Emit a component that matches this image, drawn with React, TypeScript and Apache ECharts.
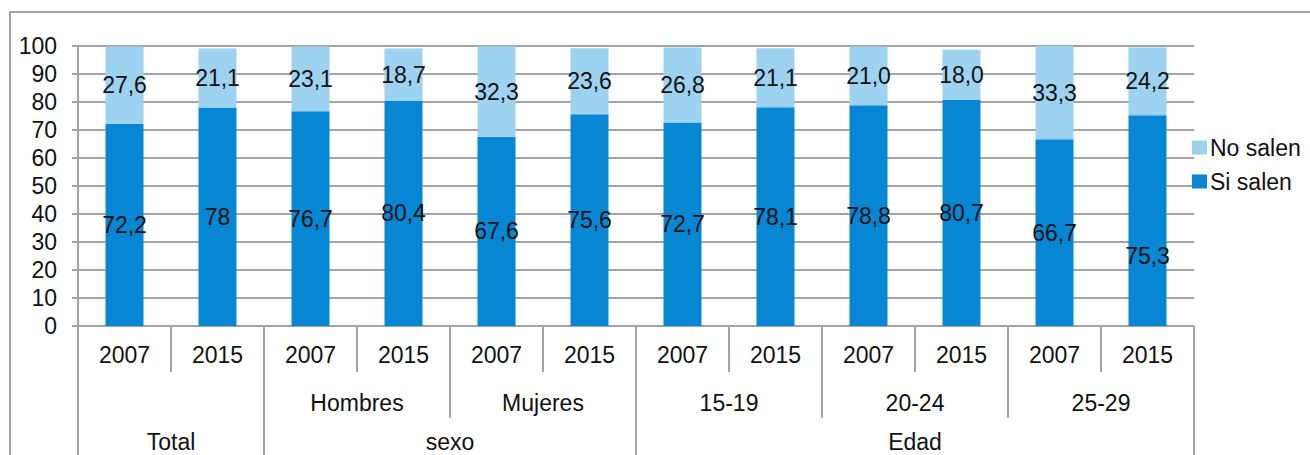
import React, { useEffect, useRef } from "react";
import * as echarts from "echarts";

const years = ["2007", "2015", "2007", "2015", "2007", "2015", "2007", "2015", "2007", "2015", "2007", "2015"];
const level2 = ["", "Hombres", "Mujeres", "15-19", "20-24", "25-29"];
const level3 = ["Total", "sexo", "Edad"];
const level3Centers = [1, 4, 9];
const level3Bounds = [0, 2, 6, 12];
const siSalen = [72.2, 78, 76.7, 80.4, 67.6, 75.6, 72.7, 78.1, 78.8, 80.7, 66.7, 75.3];
const noSalen = [27.6, 21.1, 23.1, 18.7, 32.3, 23.6, 26.8, 21.1, 21.0, 18.0, 33.3, 24.2];
const yTicks = [0, 10, 20, 30, 40, 50, 60, 70, 80, 90, 100];

const FONT = "'Liberation Sans', Arial, sans-serif";
const FS = 23;
const GRAY = "#a3a3a3";
const DARK = "#0787D3";
const LIGHT = "#9DD2F0";
const TXT = "#111";

export default function App() {
  const ref = useRef<HTMLDivElement>(null);
  useEffect(() => {
    if (!ref.current) return;
    const chart = echarts.init(ref.current, null, { renderer: "svg" });
    const fmt = (v: number, fixed: boolean) => (fixed ? v.toFixed(1) : String(v)).replace(".", ",");
    chart.setOption({
      animation: false,
      textStyle: { fontFamily: FONT },
      graphic: [
        {
          type: "rect",
          shape: { x: 10, y: 12, width: 1400, height: 600 },
          style: { fill: "none", stroke: GRAY, lineWidth: 2 },
          silent: true,
          z: -10,
        },
      ],
      legend: {
        orient: "vertical",
        left: 1192,
        top: 136,
        itemWidth: 15,
        itemHeight: 14,
        itemGap: 11,
        icon: "rect",
        padding: 0,
        textStyle: { fontSize: FS, color: TXT, fontFamily: FONT, padding: [0, 0, 0, -2] },
        data: ["No salen", "Si salen"],
      },
      grid: { left: 78, right: 116, top: 46, bottom: 129, containLabel: false, outerBoundsMode: "none" },
      xAxis: [
        {
          type: "category",
          data: years,
          position: "bottom",
          axisLine: { show: true, lineStyle: { color: GRAY, width: 2 } },
          axisTick: { show: true, length: 46, lineStyle: { color: GRAY, width: 2 } },
          axisLabel: { fontSize: FS, color: TXT, margin: 17, fontFamily: FONT },
        },
        {
          type: "category",
          data: level2,
          position: "bottom",
          axisLine: { show: false },
          axisTick: { show: true, length: 92, lineStyle: { color: GRAY, width: 2 } },
          axisLabel: { fontSize: FS, color: TXT, margin: 65, fontFamily: FONT },
          splitLine: { show: false },
        },
        {
          type: "value",
          min: 0,
          max: 12,
          position: "bottom",
          axisLine: { show: false },
          axisTick: { show: true, length: 140, customValues: level3Bounds, lineStyle: { color: GRAY, width: 2 } },
          axisLabel: {
            fontSize: FS,
            color: TXT,
            margin: 104,
            fontFamily: FONT,
            customValues: level3Centers,
            formatter: (v: number) => level3[level3Centers.indexOf(v)] ?? "",
          },
          splitLine: { show: false },
        },
      ],
      yAxis: {
        type: "value",
        min: yTicks[0],
        max: yTicks[yTicks.length - 1],
        interval: 10,
        axisLine: { show: true, lineStyle: { color: GRAY, width: 2 } },
        axisTick: { show: true, length: 6, lineStyle: { color: GRAY, width: 2 } },
        axisLabel: { fontSize: FS, color: TXT, margin: 21, fontFamily: FONT },
        splitLine: { show: true, lineStyle: { color: GRAY, width: 2 } },
      },
      series: [
        {
          name: "Si salen",
          type: "bar",
          stack: "a",
          xAxisIndex: 0,
          barWidth: 38,
          itemStyle: { color: DARK },
          label: {
            show: true,
            position: "inside",
            fontSize: FS,
            color: TXT,
            fontFamily: FONT,
            formatter: (p: any) => fmt(p.value, false),
          },
          data: siSalen.map((v, i) =>
            i === 11 ? { value: v, label: { offset: [0, 35] } } : v
          ),
        },
        {
          name: "No salen",
          type: "bar",
          stack: "a",
          xAxisIndex: 0,
          barWidth: 38,
          itemStyle: { color: LIGHT },
          label: {
            show: true,
            position: "inside",
            fontSize: FS,
            color: TXT,
            fontFamily: FONT,
            formatter: (p: any) => fmt(p.value, true),
          },
          data: noSalen,
        },
      ],
    });
    return () => chart.dispose();
  }, []);
  return <div ref={ref} style={{ width: 1310, height: 455, position: "absolute", left: 0, top: 0 }} />;
}
